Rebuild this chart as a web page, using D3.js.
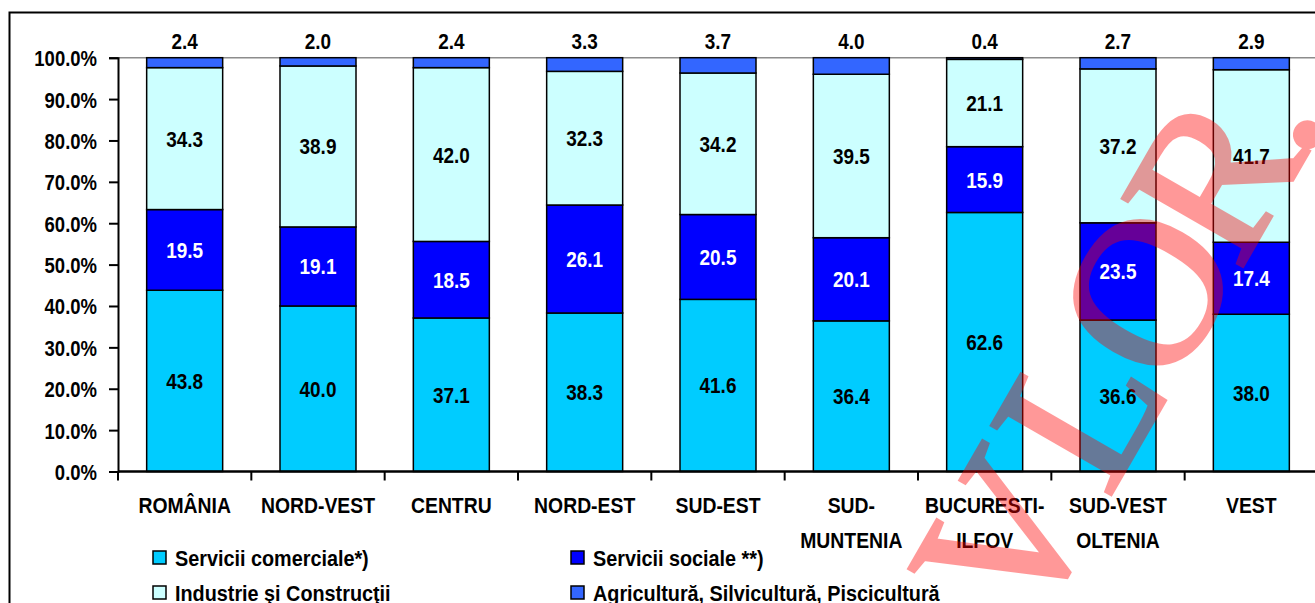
<!DOCTYPE html>
<html>
<head>
<meta charset="utf-8">
<script src="https://cdn.jsdelivr.net/npm/d3@7"></script>
<style>
  body { margin: 0; background: #fff; }
  svg { display: block; }
  text { font-family: "Liberation Sans", Arial, sans-serif; font-weight: bold; }
</style>
</head>
<body>
<div id="vis"></div>
<script>
const categories = ["ROMÂNIA", "NORD-VEST", "CENTRU", "NORD-EST", "SUD-EST", "SUD-\nMUNTENIA", "BUCURESTI-\nILFOV", "SUD-VEST\nOLTENIA", "VEST"];
const comerciale = [43.8, 40.0, 37.1, 38.3, 41.6, 36.4, 62.6, 36.6, 38.0];
const sociale = [19.5, 19.1, 18.5, 26.1, 20.5, 20.1, 15.9, 23.5, 17.4];
const industrie = [34.3, 38.9, 42.0, 32.3, 34.2, 39.5, 21.1, 37.2, 41.7];
const agricultura = [2.4, 2.0, 2.4, 3.3, 3.7, 4.0, 0.4, 2.7, 2.9];
const seriesNames = ["Servicii comerciale*)", "Servicii sociale **)", "Industrie şi Construcţii", "Agricultură, Silvicultură, Piscicultură"];
const yTicks = [0, 10, 20, 30, 40, 50, 60, 70, 80, 90, 100];

const W = 1315, H = 603;
const colors = ["#00CCFF", "#0000FF", "#CCFFFF", "#3366FF"];
const labelColors = ["#000", "#fff", "#000", "#000"];

// squeeze text horizontally to look like a narrow font
function narrow(sel, f) {
    sel.each(function () {
        const w = this.getComputedTextLength();
        d3.select(this).attr("textLength", w * f).attr("lengthAdjust", "spacingAndGlyphs");
    });
}

const svg = d3.select("#vis").append("svg").attr("width", W).attr("height", H);

// outer frame
svg.append("rect")
    .attr("x", 9.5).attr("y", 12.5)
    .attr("width", W + 20).attr("height", H + 20)
    .attr("fill", "none").attr("stroke", "#000").attr("stroke-width", 2);

const rows = categories.map((c, i) => ({
    cat: c,
    s0: comerciale[i], s1: sociale[i], s2: industrie[i], s3: agricultura[i]
}));
const keys = ["s0", "s1", "s2", "s3"];
const stacked = d3.stack().keys(keys)(rows);

const x = d3.scaleBand().domain(categories).range([118, 1318]).padding(0);
const y = d3.scaleLinear().domain([0, 100]).range([471.5, 57.7]);
const barW = 76;
const barX = d => x(d) + (x.bandwidth() - barW) / 2;

// top plot border
svg.append("line")
    .attr("x1", 118).attr("x2", W).attr("y1", y(100)).attr("y2", y(100))
    .attr("stroke", "#8c8c8c").attr("stroke-width", 1.5);

// bars
stacked.forEach((s, si) => {
    svg.append("g").selectAll("rect")
        .data(s)
        .join("rect")
        .attr("x", d => barX(d.data.cat))
        .attr("y", d => y(d[1]))
        .attr("width", barW)
        .attr("height", d => y(d[0]) - y(d[1]))
        .attr("fill", colors[si])
        .attr("stroke", "#000")
        .attr("stroke-width", 1.5);
});

// labels inside segments
stacked.slice(0, 3).forEach((s, si) => {
    const t = svg.append("g").selectAll("text")
        .data(s)
        .join("text")
        .attr("x", d => x(d.data.cat) + x.bandwidth() / 2)
        .attr("y", d => (y(d[0]) + y(d[1])) / 2 + 8)
        .attr("text-anchor", "middle")
        .attr("font-size", 22)
        .attr("fill", labelColors[si])
        .text(d => d3.format(".1f")(d[1] - d[0]));
    narrow(t, 0.86);
});

// agriculture values above bars
const topLabels = svg.append("g").selectAll("text")
    .data(stacked[3])
    .join("text")
    .attr("x", d => x(d.data.cat) + x.bandwidth() / 2)
    .attr("y", y(100) - 9)
    .attr("text-anchor", "middle")
    .attr("font-size", 22)
    .attr("fill", "#000")
    .text(d => d3.format(".1f")(d[1] - d[0]));
narrow(topLabels, 0.86);

// y axis
const yAxis = svg.append("g")
    .attr("transform", "translate(118,0)")
    .call(d3.axisLeft(y).tickValues(yTicks).tickSize(9).tickPadding(12).tickFormat(d => d3.format(".1f")(d) + "%"));
yAxis.select(".domain").attr("stroke-width", 2);
yAxis.selectAll(".tick line").attr("stroke-width", 2);
yAxis.selectAll("text").attr("font-size", 22).attr("font-family", null).attr("fill", "#000").attr("dy", "0.36em");
narrow(yAxis.selectAll("text"), 0.84);

// x axis
const xAxis = svg.append("g")
    .attr("transform", `translate(0,${y(0)})`);
xAxis.append("line")
    .attr("x1", 118).attr("x2", W).attr("stroke", "#000").attr("stroke-width", 2.5);
xAxis.selectAll(".tk")
    .data(categories)
    .join("line")
    .attr("x1", d => x(d)).attr("x2", d => x(d))
    .attr("y1", 0).attr("y2", 9)
    .attr("stroke", "#000").attr("stroke-width", 2);
xAxis.selectAll(".cl")
    .data(categories)
    .join("text")
    .attr("text-anchor", "middle")
    .attr("font-size", 22)
    .attr("fill", "#000")
    .each(function (d) {
        d.split("\n").forEach((ln, li) => {
            d3.select(this).append("tspan")
                .attr("x", x(d) + x.bandwidth() / 2)
                .attr("y", 41 + li * 35.5)
                .text(ln);
        });
    });
narrow(xAxis.selectAll("tspan"), 0.88);

// legend
const legendPos = [[153, 566], [571, 566], [153, 601], [571, 601]];
const legend = svg.append("g").selectAll("g")
    .data(seriesNames)
    .join("g")
    .attr("transform", (d, i) => `translate(${legendPos[i][0]},${legendPos[i][1]})`);
legend.append("rect")
    .attr("x", 0).attr("y", -15)
    .attr("width", 13).attr("height", 13)
    .attr("fill", (d, i) => colors[i])
    .attr("stroke", "#000").attr("stroke-width", 1.5);
const legendText = legend.append("text")
    .attr("x", 22).attr("y", 0)
    .attr("font-size", 22)
    .attr("fill", "#000")
    .text(d => d);
narrow(legendText, 0.9);

// watermark
svg.append("g")
    .attr("transform", "translate(1148,292) rotate(-60)")
    .attr("opacity", 0.4)
    .append("text")
    .attr("x", -361).attr("y", 69)
    .attr("dx", "0 10 -5 -13 -13")
    .style("font-family", "'Liberation Serif', 'DejaVu Serif', serif")
    .style("font-weight", "normal")
    .attr("font-size", 210)
    .attr("fill", "#ff0000")
    .attr("stroke", "#ff0000")
    .attr("stroke-width", 4)
    .text("VLOR.");
</script>
</body>
</html>
